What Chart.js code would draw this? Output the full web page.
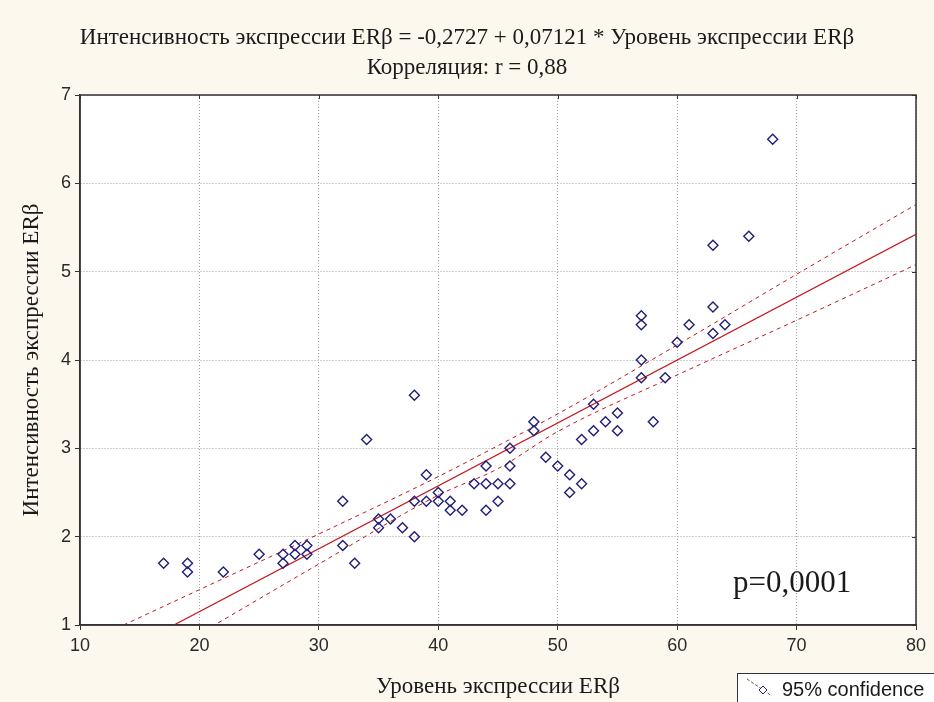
<!DOCTYPE html>
<html lang="ru">
<head>
<meta charset="utf-8">
<title>Интенсивность экспрессии ERβ</title>
<script src="https://cdn.jsdelivr.net/npm/chart.js@4.4.1/dist/chart.umd.min.js"></script>
<style>
    html, body { margin: 0; padding: 0; background: #fcf8ee; }
    #wrap { width: 934px; height: 702px; }
</style>
</head>
<body>
<div id="wrap"><canvas id="er-chart" width="934" height="702"></canvas></div>
<script>
// scatter: ER-beta expression level vs staining intensity
var levels = [17, 19, 19, 22, 25, 27, 27, 28, 28, 29, 29, 32, 32, 33, 34, 35, 35, 36, 37,
    38, 38, 38, 39, 39, 40, 40, 41, 41, 42, 43, 44, 44, 44, 45, 45, 46, 46, 46, 48, 48,
    49, 50, 51, 51, 52, 52, 53, 53, 54, 55, 55, 57, 57, 57, 57, 58, 59, 60, 61, 63, 63,
    63, 64, 66, 68];
var intensity = [1.7, 1.7, 1.6, 1.6, 1.8, 1.8, 1.7, 1.9, 1.8, 1.9, 1.8, 2.4, 1.9, 1.7, 3.1, 2.2, 2.1, 2.2, 2.1,
    3.6, 2.4, 2.0, 2.7, 2.4, 2.5, 2.4, 2.4, 2.3, 2.3, 2.6, 2.8, 2.6, 2.3, 2.6, 2.4, 3.0, 2.8, 2.6, 3.3, 3.2,
    2.9, 2.8, 2.7, 2.5, 3.1, 2.6, 3.5, 3.2, 3.3, 3.4, 3.2, 4.5, 4.4, 4.0, 3.8, 3.3, 3.8, 4.2, 4.4, 5.3, 4.6,
    4.3, 4.4, 5.4, 6.5];

// fitted line from the header equation
var regIntercept = -0.2727;
var regSlope = 0.07121;
var fitRange = [10, 80];

// 95% confidence limits of the fit
var bandX = [10, 20, 30, 40, 45, 50, 60, 70, 80];
var bandUpper = [0.77, 1.40, 2.03, 2.68, 3.03, 3.39, 4.17, 4.97, 5.76];
var bandLower = [0.11, 0.90, 1.69, 2.47, 2.77, 3.19, 3.83, 4.45, 5.08];

var xTicks = [10, 20, 30, 40, 50, 60, 70, 80];
var yTicks = [1, 2, 3, 4, 5, 6, 7];

var titleLines = [
    'Интенсивность экспрессии ERβ = -0,2727 + 0,07121 * Уровень экспрессии ERβ',
    'Корреляция: r = 0,88'
];
var xTitle = 'Уровень экспрессии ERβ';
var yTitle = 'Интенсивность экспрессии ERβ';
var pText = 'p=0,0001';
var legendText = '95% confidence';

var SERIF = "'Liberation Serif', 'Times New Roman', serif";
var SANS = "'Liberation Sans', Arial, sans-serif";
var DOT = '#1f1f78';
var RED = '#c4161c';

function pairs(xs, ys) {
    return xs.map(function (x, i) { return { x: x, y: ys[i] }; });
}

var fitLine = fitRange.map(function (x) { return { x: x, y: regIntercept + regSlope * x }; });

// plot area fill, outer frame with inner ticks, p value and legend box
var decor = {
    id: 'decor',
    beforeDatasetsDraw: function (chart) {
        var a = chart.chartArea, ctx = chart.ctx;
        ctx.save();
        ctx.globalCompositeOperation = 'destination-over';
        ctx.fillStyle = '#ffffff';
        ctx.fillRect(a.left, a.top, a.right - a.left, a.bottom - a.top);
        ctx.restore();
    },
    afterDraw: function (chart) {
        var a = chart.chartArea, ctx = chart.ctx;
        var sx = chart.scales.x, sy = chart.scales.y;
        ctx.save();
        ctx.strokeStyle = '#333333';
        ctx.lineWidth = 1.5;
        ctx.strokeRect(a.left, a.top, a.right - a.left, a.bottom - a.top);
        ctx.lineWidth = 1;
        ctx.beginPath();
        xTicks.forEach(function (v) {
            var px = Math.round(sx.getPixelForValue(v)) + 0.5;
            ctx.moveTo(px, a.top); ctx.lineTo(px, a.top + 4);
        });
        yTicks.forEach(function (v) {
            var py = Math.round(sy.getPixelForValue(v)) + 0.5;
            ctx.moveTo(a.right, py); ctx.lineTo(a.right - 4, py);
        });
        ctx.stroke();

        ctx.fillStyle = '#1a1a1a';
        ctx.textAlign = 'left';
        ctx.textBaseline = 'alphabetic';
        ctx.font = '31px ' + SERIF;
        ctx.fillText(pText, 733, 592);

        // legend
        ctx.fillStyle = '#ffffff';
        ctx.fillRect(737, 673, 210, 40);
        ctx.strokeStyle = '#333333';
        ctx.strokeRect(737.5, 673.5, 210, 40);
        ctx.strokeStyle = '#555555';
        ctx.setLineDash([3, 2]);
        ctx.beginPath();
        ctx.moveTo(747, 679); ctx.lineTo(772, 696);
        ctx.stroke();
        ctx.setLineDash([]);
        ctx.strokeStyle = DOT;
        ctx.fillStyle = '#ffffff';
        ctx.beginPath();
        ctx.moveTo(763, 686); ctx.lineTo(767, 690); ctx.lineTo(763, 694); ctx.lineTo(759, 690);
        ctx.closePath();
        ctx.fill(); ctx.stroke();
        ctx.fillStyle = '#1a1a1a';
        ctx.font = '20px ' + SANS;
        ctx.textBaseline = 'middle';
        ctx.fillText(legendText, 782, 690);
        ctx.restore();
    }
};

new Chart(document.getElementById('er-chart').getContext('2d'), {
    type: 'scatter',
    data: {
        datasets: [
            {
                label: 'points',
                data: pairs(levels, intensity),
                pointStyle: 'rectRot',
                pointRadius: 5,
                pointBorderWidth: 1.4,
                pointBorderColor: DOT,
                pointBackgroundColor: 'rgba(255,255,255,0)',
                order: 0
            },
            {
                type: 'line',
                label: 'fit',
                data: fitLine,
                borderColor: RED,
                borderWidth: 1.2,
                pointRadius: 0,
                order: 1
            },
            {
                type: 'line',
                label: 'upper',
                data: pairs(bandX, bandUpper),
                borderColor: RED,
                borderWidth: 1,
                borderDash: [4, 4],
                cubicInterpolationMode: 'monotone',
                pointRadius: 0,
                order: 1
            },
            {
                type: 'line',
                label: 'lower',
                data: pairs(bandX, bandLower),
                borderColor: RED,
                borderWidth: 1,
                borderDash: [4, 4],
                cubicInterpolationMode: 'monotone',
                pointRadius: 0,
                order: 1
            }
        ]
    },
    options: {
        responsive: false,
        animation: false,
        layout: { padding: { left: 18, right: 18, top: 0, bottom: 0 } },
        plugins: {
            legend: { display: false },
            tooltip: { enabled: false },
            title: {
                display: true,
                text: titleLines,
                color: '#1a1a1a',
                font: { family: SERIF, size: 23, weight: 'normal', lineHeight: '30px' },
                padding: { top: 23, bottom: 12 }
            }
        },
        scales: {
            x: {
                type: 'linear',
                min: 10,
                max: 80,
                afterFit: function (s) { s.height = 77; },
                afterBuildTicks: function (s) { s.ticks = xTicks.map(function (v) { return { value: v }; }); },
                ticks: { color: '#2a2a2a', padding: 5, font: { family: SANS, size: 18 } },
                grid: { color: '#a0a0a0', tickLength: 5, tickColor: '#333333' },
                border: { color: '#333333', width: 1.5, dash: [1, 2] },
                title: {
                    display: true,
                    text: xTitle,
                    color: '#1a1a1a',
                    font: { family: SERIF, size: 23 },
                    padding: { top: 0, bottom: 1 }
                }
            },
            y: {
                type: 'linear',
                min: 1,
                max: 7,
                afterFit: function (s) { s.width = 62; },
                afterBuildTicks: function (s) { s.ticks = yTicks.map(function (v) { return { value: v }; }); },
                ticks: { color: '#2a2a2a', padding: 4, font: { family: SANS, size: 18 } },
                grid: { color: '#a0a0a0', tickLength: 5, tickColor: '#333333' },
                border: { color: '#333333', width: 1.5, dash: [1, 2] },
                title: {
                    display: true,
                    text: yTitle,
                    color: '#1a1a1a',
                    font: { family: SERIF, size: 23 },
                    padding: { top: 0 }
                }
            }
        }
    },
    plugins: [decor]
});
</script>
</body>
</html>
